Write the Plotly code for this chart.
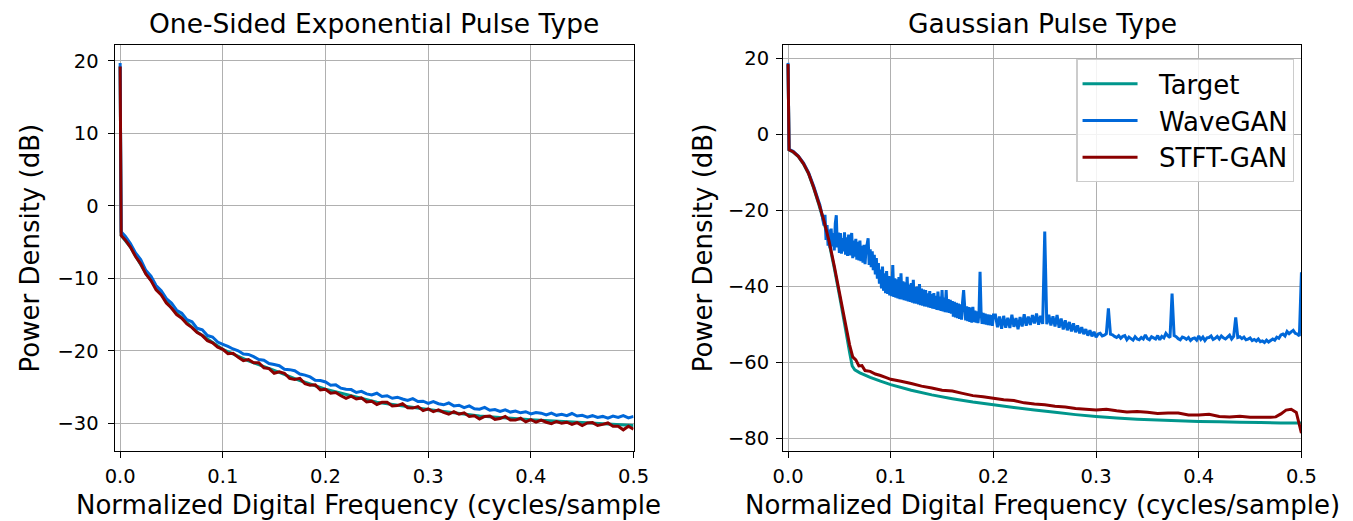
import plotly.graph_objects as go

# ---------------- Left panel: One-Sided Exponential Pulse Type ----------------
exp_freq = [0.0, 0.001] + [round(0.005 * k, 3) for k in range(1, 101)]

exp_stft = [19.2, -4.1, -4.7, -5.7, -7.0, -8.0, -9.4, -10.3, -11.6, -12.3, -13.4, -14.1,
            -15.0, -15.5, -16.3, -16.8, -17.5, -17.9, -18.6, -18.9, -19.5,
            # 0.100 - 0.500
            -19.8, -20.4, -20.35, -20.9, -21.35, -21.2, -21.65, -21.65, -22.35, -22.45,
            -23.1, -22.9, -23.1, -23.8, -23.95, -23.8, -24.55, -24.75, -24.7, -25.4,
            -25.3, -25.85, -25.75, -26.2, -26.55, -26.25, -26.65, -26.5, -27.05, -26.95,
            -27.4, -27.1, -27.1, -27.6, -27.55, -27.3, -27.85, -27.9, -27.7, -28.25,
            -28.0, -28.4, -28.15, -28.5, -28.75, -28.4, -28.75, -28.55, -29.05, -28.95,
            -29.4, -29.05, -29.0, -29.45, -29.35, -29.05, -29.55, -29.55, -29.3, -29.8,
            -29.5, -29.85, -29.55, -29.85, -30.05, -29.75, -30.0, -29.85, -30.15, -29.9,
            -30.3, -29.95, -29.9, -30.3, -30.15, -29.95, -30.4, -30.4, -30.9, -30.4,
            -30.8]

exp_wave = [19.7, -3.6, -4.2, -5.2, -6.5, -7.4, -8.9, -9.7, -11.0, -11.7, -12.8, -13.4,
            -14.4, -14.8, -15.7, -16.0, -16.9, -17.1, -17.9, -18.1, -18.8,
            # 0.100 - 0.500
            -19.1, -19.4, -19.75, -20.0, -20.45, -20.5, -20.8, -21.2, -21.3, -21.75,
            -21.9, -22.05, -22.55, -22.6, -22.75, -23.2, -23.35, -23.6, -24.05, -24.1,
            -24.3, -24.75, -24.7, -25.15, -25.3, -25.35, -25.75, -25.6, -25.95, -26.1,
            -25.85, -26.3, -26.2, -26.55, -26.4, -26.65, -26.85, -26.6, -27.0, -26.95,
            -27.25, -27.0, -27.3, -27.45, -27.2, -27.6, -27.5, -27.85, -27.6, -28.0,
            -28.05, -27.8, -28.2, -28.1, -28.35, -28.15, -28.45, -28.3, -28.55, -28.4,
            -28.7, -28.5, -28.6, -28.85, -28.6, -28.9, -28.75, -28.95, -28.65, -29.0,
            -28.9, -29.15, -28.95, -29.2, -29.05, -29.3, -29.0, -29.2, -28.95, -29.25,
            -29.05]

exp_target_freq = [0.0, 0.001, 0.01, 0.025, 0.05, 0.075, 0.1, 0.125, 0.15, 0.175, 0.2,
                   0.25, 0.3, 0.35, 0.4, 0.45, 0.5]
exp_target = [19.2, -4.1, -5.7, -9.3, -14.1, -17.4, -19.8, -21.4, -22.7, -24.1, -25.3,
              -27.1, -28.1, -29.0, -29.5, -29.9, -30.3]

# ---------------- Right panel: Gaussian Pulse Type ----------------
gau_target_freq = [0.0, 0.001, 0.005, 0.01, 0.015, 0.02, 0.025, 0.03, 0.035, 0.04, 0.045,
                   0.05, 0.055, 0.06, 0.0625, 0.065, 0.07, 0.075, 0.08, 0.09, 0.1, 0.12,
                   0.14, 0.16, 0.18, 0.2, 0.22, 0.24, 0.26, 0.28, 0.3, 0.32, 0.34, 0.36,
                   0.38, 0.4, 0.42, 0.44, 0.46, 0.48, 0.5]
gau_target = [18.3, -4.1, -4.7, -5.9, -7.8, -10.4, -14.2, -18.5, -23.2, -28.6, -35.2,
              -42.3, -49.8, -57.5, -61.0, -62.0, -62.8, -63.4, -64.0, -65.0, -65.9, -67.4,
              -68.6, -69.6, -70.5, -71.2, -71.9, -72.6, -73.2, -73.8, -74.3, -74.7, -75.0,
              -75.2, -75.4, -75.6, -75.7, -75.8, -75.9, -76.0, -76.0]

gau_stft_freq = [0.0, 0.001, 0.005, 0.01, 0.015, 0.02, 0.025, 0.03, 0.035, 0.04, 0.045,
                 0.05, 0.055, 0.06, 0.063, 0.066, 0.069, 0.072, 0.075, 0.08, 0.085, 0.09,
                 0.095, 0.10, 0.11, 0.12, 0.13, 0.14, 0.15, 0.16, 0.17, 0.18, 0.19, 0.20,
                 0.21, 0.22, 0.23, 0.24, 0.25, 0.26, 0.27, 0.28, 0.29, 0.30, 0.31, 0.32,
                 0.33, 0.34, 0.35, 0.36, 0.37, 0.38, 0.39, 0.40, 0.41, 0.42, 0.43, 0.44,
                 0.45, 0.46, 0.47, 0.475, 0.48, 0.485, 0.49, 0.495, 0.5]
gau_stft = [18.5, -4.1, -4.6, -5.8, -7.7, -10.3, -14.0, -18.2, -22.8, -28.2, -34.6,
            -41.6, -48.6, -55.5, -58.6, -59.4, -61.0, -60.9, -62.2, -62.4, -63.1, -63.5,
            -64.0, -64.5, -65.0, -65.6, -66.3, -66.8, -67.4, -67.6, -68.2, -68.8, -69.1,
            -69.5, -69.9, -70.1, -70.7, -71.0, -71.2, -71.6, -71.8, -72.2, -72.4, -72.6,
            -72.4, -72.8, -73.1, -73.0, -73.2, -73.5, -73.4, -73.4, -73.9, -73.9, -73.7,
            -74.3, -74.4, -74.2, -74.5, -74.5, -74.5, -74.4, -73.6, -72.6, -72.4, -73.2,
            -78.7]

gau_wave_freq = ([0.0, 0.001, 0.005, 0.01, 0.015, 0.02, 0.025, 0.03]
                 + [round(0.001 * k, 3) for k in range(31, 201)]
                 + [round(0.002 * k, 3) for k in range(101, 251)])
gau_wave = [18.8, -4.0, -4.5, -5.7, -7.5, -10.1, -13.7, -17.8,
            # 0.031 - 0.200 (step 0.001)
            -18.6, -19.8, -21.0, -22.6, -24.0, -21.2, -27.8, -23.9, -29.3, -25.1,
            -30.0, -24.8, -29.5, -26.0, -30.6, -23.5, -21.3, -29.8, -25.9, -31.2,
            -26.0, -31.4, -27.3, -30.8, -25.8, -31.7, -27.1, -32.0, -26.4, -31.9,
            -28.1, -26.0, -32.6, -28.0, -32.2, -27.5, -33.0, -28.3, -33.2, -28.0,
            -33.4, -29.4, -33.8, -29.1, -34.2, -30.0, -29.0, -27.4, -34.4, -30.3,
            -35.0, -30.8, -35.8, -31.7, -36.9, -32.6, -38.0, -33.9, -39.3, -35.6,
            -40.6, -34.8, -41.2, -36.6, -41.8, -36.0, -42.0, -37.3, -42.4, -37.4,
            -42.6, -34.4, -42.8, -37.9, -43.0, -38.2, -43.2, -37.6, -43.4, -36.6,
            -43.5, -38.7, -43.7, -39.0, -43.8, -37.5, -44.0, -39.6, -44.1, -39.2,
            -44.3, -38.3, -44.5, -40.2, -44.6, -40.1, -44.8, -39.4, -45.0, -40.6,
            -45.1, -40.9, -45.3, -41.0, -45.4, -41.9, -45.6, -41.3, -45.7, -42.1,
            -45.9, -41.8, -46.0, -42.5, -46.2, -41.4, -46.3, -42.7, -46.5, -41.0,
            -46.6, -43.0, -46.8, -41.0, -46.9, -43.4, -47.0, -43.6, -47.2, -43.9,
            -48.0, -44.1, -48.2, -44.4, -48.4, -44.6, -48.6, -44.8, -48.8, -44.0,
            -41.0, -45.2, -49.0, -45.3, -49.2, -45.5, -49.4, -45.6, -49.6, -45.4,
            -49.4, -46.4, -49.6, -46.6, -49.7, -46.8, -36.2, -46.9, -49.9, -47.0,
            -50.0, -47.2, -50.1, -47.4, -50.2, -47.5, -50.3, -47.6, -50.4, -47.6,
            # 0.202 - 0.500 (step 0.002)
            -47.6, -50.8, -48.0, -51.2, -47.8, -50.9, -48.3, -51.0, -47.5, -50.7,
            -48.4, -51.3, -48.1, -50.6, -47.4, -50.4, -48.0, -50.2, -47.6, -49.8,
            -47.2, -50.1, -47.8, -49.9, -25.6, -50.0, -47.5, -50.3, -47.9, -50.6,
            -47.6, -50.9, -48.5, -51.4, -49.0, -51.6, -49.4, -51.9, -49.8, -52.1,
            -50.3, -52.4, -50.8, -52.6, -51.3, -53.0, -51.6, -53.2, -52.0, -53.4,
            -52.6, -52.4, -53.1, -52.9, -52.5, -45.8, -52.6, -52.8, -53.2, -53.5,
            -53.0, -53.7, -53.2, -53.0, -54.1, -53.4, -53.8, -54.2, -53.3, -53.9,
            -54.1, -53.5, -53.9, -52.8, -53.8, -54.1, -53.3, -53.6, -53.9, -53.0,
            -54.1, -53.2, -53.6, -52.4, -53.1, -53.5, -41.9, -53.0, -53.3, -53.8,
            -54.1, -53.4, -53.6, -54.0, -53.5, -54.3, -53.8, -53.6, -54.2, -53.1,
            -54.0, -53.4, -54.3, -53.6, -53.5, -53.1, -54.0, -53.7, -53.2, -53.9,
            -53.1, -53.6, -53.9, -53.4, -52.9, -53.9, -53.2, -48.2, -53.5, -53.3,
            -53.8, -53.4, -54.1, -53.9, -53.6, -54.3, -54.0, -54.4, -53.9, -54.6,
            -54.4, -54.8, -54.2, -54.7, -54.3, -53.9, -54.2, -53.4, -53.7, -52.8,
            -52.6, -53.1, -51.9, -52.5, -52.0, -51.6, -52.4, -52.6, -53.1, -36.3]

series_names = ["Target", "WaveGAN", "STFT-GAN"]
series_colors = ["#00968c", "#0068d9", "#8b0000"]
panel_titles = ["One-Sided Exponential Pulse Type", "Gaussian Pulse Type"]
x_titles = ["Normalized Digital Frequency (cycles/sample", "Normalized Digital Frequency (cycles/sample)"]
y_title = "Power Density (dB)"

FONT = "DejaVu Sans"
LW = 3

fig = go.Figure()

left_data = [(exp_target_freq, exp_target), (exp_freq, exp_wave), (exp_freq, exp_stft)]
right_data = [(gau_target_freq, gau_target), (gau_wave_freq, gau_wave), (gau_stft_freq, gau_stft)]

for i, (fx, fy) in enumerate(left_data):
    fig.add_trace(go.Scatter(x=fx, y=fy, mode="lines", name=series_names[i],
                             legendgroup=series_names[i], showlegend=False,
                             line=dict(color=series_colors[i], width=LW, simplify=False),
                             xaxis="x", yaxis="y"))
for i, (fx, fy) in enumerate(right_data):
    fig.add_trace(go.Scatter(x=fx, y=fy, mode="lines",
                             name="\u00a0\u00a0" + series_names[i],
                             legendgroup=series_names[i], showlegend=True,
                             line=dict(color=series_colors[i], width=LW, simplify=False),
                             xaxis="x2", yaxis="y2"))

axis_common = dict(showline=True, linecolor="black", linewidth=1.3, mirror=True,
                   ticks="outside", ticklen=6, tickwidth=1.3, tickcolor="black",
                   showgrid=True, gridcolor="#b0b0b0", gridwidth=1.2, zeroline=False,
                   tickfont=dict(family=FONT, size=19.5, color="black"))

fig.update_layout(
    width=1353, height=521,
    margin=dict(l=0, r=0, t=0, b=0),
    paper_bgcolor="white", plot_bgcolor="white",
    font=dict(family=FONT, color="black"),
    xaxis=dict(domain=[0.0789, 0.4699], range=[-0.0053, 0.5], dtick=0.1, tickformat=".1f",
               anchor="y", ticklabelstandoff=2, **axis_common),
    yaxis=dict(domain=[0.1349, 0.9136], range=[-33.78, 22.17], dtick=10, anchor="x",
               ticklabelstandoff=5, **axis_common),
    xaxis2=dict(domain=[0.5826, 0.9732], range=[-0.0048, 0.5], dtick=0.1, tickformat=".1f",
                anchor="y2", ticklabelstandoff=2, **axis_common),
    yaxis2=dict(domain=[0.1349, 0.9136], range=[-83.3, 23.5], dtick=20, anchor="x2",
                ticklabelstandoff=3, **axis_common),
    legend=dict(x=0.8035, y=0.8868, xanchor="left", yanchor="top",
                bgcolor="rgba(255,255,255,0.85)", bordercolor="#cccccc", borderwidth=1.3,
                font=dict(family=FONT, size=26, color="black"), itemwidth=55,
                tracegroupgap=2, traceorder="normal"),
)

ann = []
centers = [(0.0789 + 0.4699) / 2, (0.5826 + 0.9732) / 2]
for i in range(2):
    ann.append(dict(text=panel_titles[i], x=centers[i], y=0.954, xref="paper", yref="paper",
                    xanchor="center", yanchor="middle", showarrow=False,
                    font=dict(family=FONT, size=26.5, color="black")))
    ann.append(dict(text=x_titles[i], x=centers[i] + (-0.004 if i == 0 else 0), y=0.031,
                    xref="paper", yref="paper", xanchor="center", yanchor="middle",
                    showarrow=False, font=dict(family=FONT, size=26, color="black")))
for xc in (20 / 1353, 706 / 1353):
    ann.append(dict(text=y_title, x=xc, y=(0.1349 + 0.9136) / 2, xref="paper", yref="paper",
                    xanchor="center", yanchor="middle", textangle=-90, showarrow=False,
                    font=dict(family=FONT, size=26, color="black")))
fig.update_layout(annotations=ann)

fig.write_html("out.html")
